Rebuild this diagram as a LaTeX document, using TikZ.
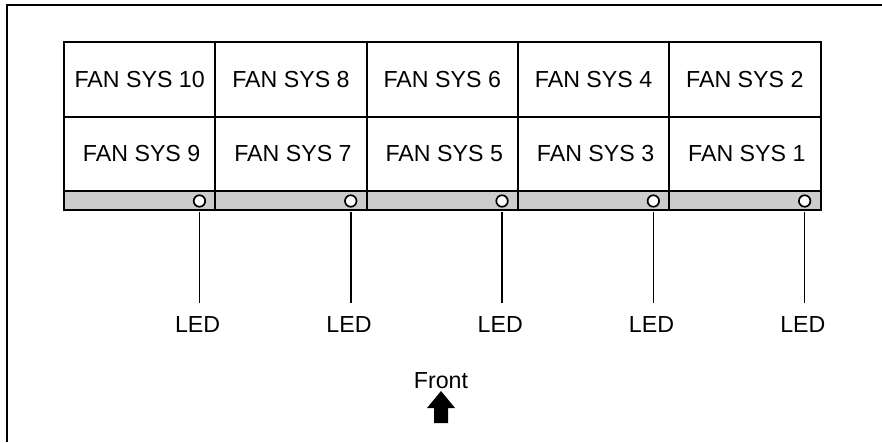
\documentclass[tikz,border=0pt]{standalone}
\usepackage{fontspec}
\setmainfont{Liberation Sans}
\definecolor{stripgray}{HTML}{CCCCCC}
\begin{document}
\begin{tikzpicture}[x=1pt,y=-1pt,
  framebox/.style={line width=1.2pt},
  cell/.style={draw, line width=2pt, minimum width=151.3pt, minimum height=75pt, inner sep=0pt, font=\fontsize{23.2}{27}\selectfont},
  cellb/.style={cell, minimum height=74pt},
  strip/.style={draw, line width=2pt, fill=stripgray, minimum width=151.3pt, minimum height=19pt, inner sep=0pt},
  ledc/.style={circle, draw, line width=1.7pt, fill=white, minimum size=11.5pt, inner sep=0pt},
  ledline/.style={line width=1.5pt},
  lbl/.style={font=\fontsize{23.2}{27}\selectfont, inner sep=0pt}]
\useasboundingbox (0,0) rectangle (882,442);
\coordinate (fa) at (7,442);
\coordinate (fb) at (7,5);
\coordinate (fc) at (882,5);
\draw[framebox] (fa) -- (fb) -- (fc);
\foreach \i/\t/\b in {0/10/9,1/8/7,2/6/5,3/4/3,4/2/1}{
  \pgfmathsetmacro{\cx}{64+151.3*\i+75.65}
  \node[cell] (t\i) at (\cx,79.5) {FAN SYS \t};
  \node[cellb] (b\i) at (\cx,154) {\hspace{4pt}FAN SYS \b};
  \node[strip] (s\i) at (\cx,200.5) {};
  \node[ledc] (c\i) at (\cx+59.8,201) {};
  \coordinate (e\i) at (\cx+59.8,303);
  \path (c\i.south) ++(0,4) coordinate (d\i);
  \draw[ledline] (d\i) -- (e\i);
  \node[lbl] (l\i) at (\cx+58,325) {LED};
}
\node[lbl] (front) at (441,381) {Front};
\coordinate (ar) at (441,391);
\fill (ar) -- ++(14,17) -- ++(-7,0) -- ++(0,15) -- ++(-14,0) -- ++(0,-15) -- ++(-7,0) -- cycle;
\end{tikzpicture}
\end{document}
